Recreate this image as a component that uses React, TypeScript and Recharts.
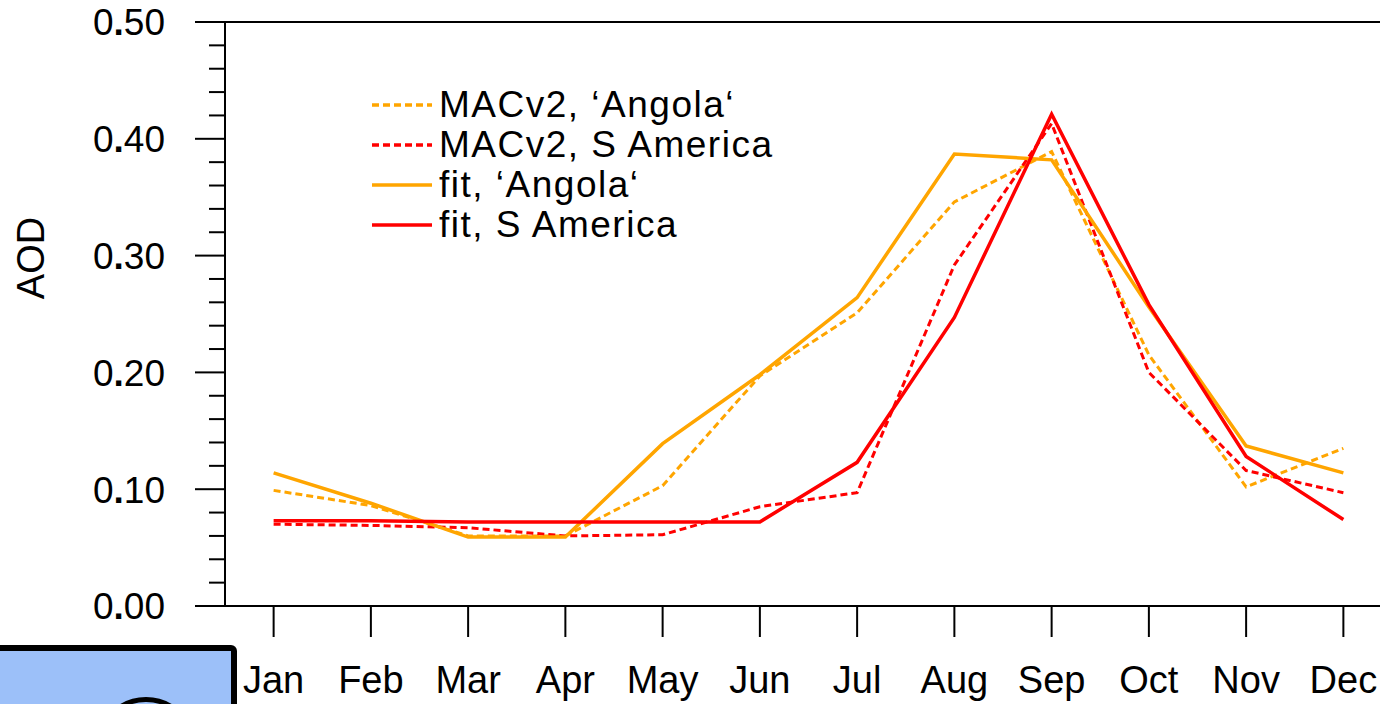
import React from 'react';
import { LineChart, Line, XAxis, YAxis, ReferenceLine, Legend } from 'recharts';

const MONTHS = ['Jan', 'Feb', 'Mar', 'Apr', 'May', 'Jun', 'Jul', 'Aug', 'Sep', 'Oct', 'Nov', 'Dec'];
const MONTH_NUM = [1, 2, 3, 4, 5, 6, 7, 8, 9, 10, 11, 12];
const Y_TICKS = [0, 0.02, 0.04, 0.06, 0.08, 0.1, 0.12, 0.14, 0.16, 0.18, 0.2, 0.22, 0.24, 0.26, 0.28, 0.3, 0.32, 0.34, 0.36, 0.38, 0.4, 0.42, 0.44, 0.46, 0.48, 0.5];

const MACV2_ANGOLA = [0.099, 0.086, 0.06, 0.06, 0.103, 0.197, 0.251, 0.346, 0.389, 0.215, 0.102, 0.135];
const MACV2_SAMERICA = [0.07, 0.069, 0.067, 0.06, 0.061, 0.085, 0.097, 0.292, 0.413, 0.2, 0.116, 0.097];
const FIT_ANGOLA = [0.114, 0.088, 0.059, 0.059, 0.139, 0.198, 0.264, 0.387, 0.382, 0.256, 0.137, 0.114];
const FIT_SAMERICA = [0.073, 0.073, 0.072, 0.072, 0.072, 0.072, 0.123, 0.247, 0.421, 0.258, 0.128, 0.074];

const SERIES = [
  { key: 'macAngola', name: 'MACv2, \u2018Angola\u2018', color: '#FFA500', dash: '7 4', values: MACV2_ANGOLA },
  { key: 'macSAm', name: 'MACv2, S America', color: '#FF0000', dash: '7 4', values: MACV2_SAMERICA },
  { key: 'fitAngola', name: 'fit, \u2018Angola\u2018', color: '#FFA500', dash: undefined, values: FIT_ANGOLA },
  { key: 'fitSAm', name: 'fit, S America', color: '#FF0000', dash: undefined, values: FIT_SAMERICA },
];

const data = MONTH_NUM.map((m, i) => {
  const row: Record<string, number> = { m };
  SERIES.forEach((s) => {
    row[s.key] = s.values[i];
  });
  return row;
});

const FONT = '"Liberation Sans", Arial, Helvetica, sans-serif';

const YTick = (props: any) => {
  const { x, y, payload } = props;
  const v = payload.value as number;
  const major = Math.abs(v * 10 - Math.round(v * 10)) < 1e-6;
  const len = major ? 30 : 16;
  const s = v.toFixed(2);
  return (
    <g>
      <line x1={x - len} x2={x} y1={y} y2={y} stroke="#000" strokeWidth={2} />
      {major && (
        <text x={x - 60} y={y} dy="0.36em" textAnchor="end" fontSize={37} fontFamily={FONT} fill="#000">
          {s[0]}
          <tspan fontWeight="bold">.</tspan>
          {s.slice(2)}
        </text>
      )}
    </g>
  );
};

const LegendContent = () => (
  <div style={{ fontFamily: FONT }}>
    {SERIES.map((s) => (
      <div key={s.key} style={{ display: 'flex', alignItems: 'center', height: 40 }}>
        <svg width={60} height={40} style={{ display: 'block' }}>
          <line x1={0} x2={60} y1={20} y2={20} stroke={s.color} strokeWidth={3.5} strokeDasharray={s.dash} />
        </svg>
        <span style={{ marginLeft: 7, fontSize: 37, lineHeight: '40px', color: '#000', letterSpacing: 1.5, whiteSpace: 'nowrap' }}>
          {s.name}
        </span>
      </div>
    ))}
  </div>
);

export default function App() {
  return (
    <div
      style={{
        position: 'absolute',
        left: 0,
        top: 0,
        width: 1380,
        height: 704,
        overflow: 'hidden',
        background: '#fff',
        fontFamily: FONT,
      }}
    >
      <LineChart width={1400} height={704} data={data} margin={{ top: 22, right: 8, bottom: 0, left: 0 }}>
        <XAxis
          dataKey="m"
          type="number"
          domain={[0.5, 12.5]}
          ticks={MONTH_NUM}
          interval={0}
          allowDataOverflow
          height={98}
          tickSize={31}
          tickMargin={29}
          tickFormatter={(v: number) => MONTHS[v - 1]}
          axisLine={{ stroke: '#000', strokeWidth: 2 }}
          tickLine={{ stroke: '#000', strokeWidth: 2 }}
          tick={{ fill: '#000', fontSize: 38, fontFamily: FONT }}
        />
        <YAxis
          type="number"
          domain={[0, 0.5]}
          ticks={Y_TICKS}
          interval={0}
          allowDataOverflow
          width={225}
          tickSize={0}
          tickMargin={0}
          tickLine={false}
          axisLine={{ stroke: '#000', strokeWidth: 2 }}
          tick={<YTick />}
        />
        <ReferenceLine y={0.5} stroke="#000" strokeWidth={2} />
        <Legend
          layout="horizontal"
          verticalAlign="middle"
          align="center"
          content={<LegendContent />}
          wrapperStyle={{ left: 372, top: 85, width: 440, height: 160 }}
        />
        {SERIES.map((s) => (
          <Line
            key={s.key}
            type="linear"
            dataKey={s.key}
            name={s.name}
            stroke={s.color}
            strokeWidth={s.dash ? 3 : 3.5}
            strokeDasharray={s.dash}
            dot={false}
            activeDot={false}
            isAnimationActive={false}
          />
        ))}
      </LineChart>
      <div
        style={{
          position: 'absolute',
          left: 31,
          top: 258,
          transform: 'translate(-50%, -50%) rotate(-90deg)',
          transformOrigin: 'center',
          fontSize: 38,
          color: '#000',
          whiteSpace: 'nowrap',
          lineHeight: 1,
        }}
      >
        AOD
      </div>
      <div
        style={{
          position: 'absolute',
          left: -10,
          top: 645,
          width: 247,
          height: 80,
          background: '#9CC0F9',
          border: '6px solid #000',
          borderRadius: 6,
          boxSizing: 'border-box',
          overflow: 'hidden',
        }}
      >
        <div
          style={{
            position: 'absolute',
            left: 100,
            top: 46,
            width: 100,
            height: 100,
            border: '5px solid #000',
            borderRadius: '50%',
            boxSizing: 'border-box',
          }}
        />
      </div>
    </div>
  );
}
